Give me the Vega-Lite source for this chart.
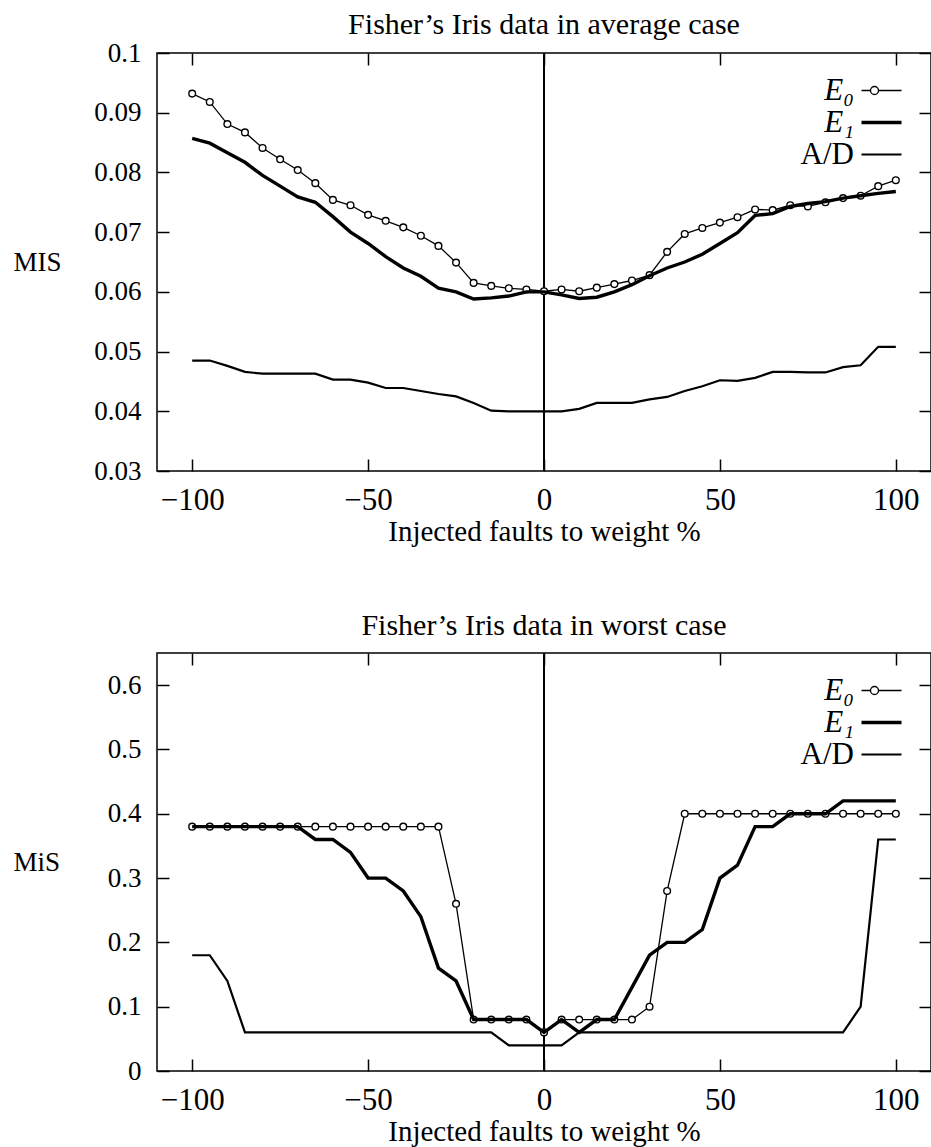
{
"$schema": "https://vega.github.io/schema/vega-lite/v6.json",
"padding": {"left": 12, "top": 9, "right": 0, "bottom": 0},
"background": "white",
"spacing": 63,
"resolve": {"scale": {"strokeWidth": "independent"}, "legend": {"strokeWidth": "independent"}},
"datasets": {
"avg": [
{"x":-100,"v":0.0932,"s":"E₀"},{"x":-95,"v":0.0918,"s":"E₀"},{"x":-90,"v":0.0881,"s":"E₀"},{"x":-85,"v":0.0867,"s":"E₀"},{"x":-80,"v":0.0841,"s":"E₀"},{"x":-75,"v":0.0822,"s":"E₀"},{"x":-70,"v":0.0804,"s":"E₀"},{"x":-65,"v":0.0782,"s":"E₀"},{"x":-60,"v":0.0754,"s":"E₀"},{"x":-55,"v":0.0745,"s":"E₀"},{"x":-50,"v":0.0729,"s":"E₀"},{"x":-45,"v":0.0719,"s":"E₀"},{"x":-40,"v":0.0708,"s":"E₀"},{"x":-35,"v":0.0694,"s":"E₀"},{"x":-30,"v":0.0677,"s":"E₀"},{"x":-25,"v":0.0649,"s":"E₀"},{"x":-20,"v":0.0615,"s":"E₀"},{"x":-15,"v":0.0610,"s":"E₀"},{"x":-10,"v":0.0606,"s":"E₀"},{"x":-5,"v":0.0604,"s":"E₀"},{"x":0,"v":0.0601,"s":"E₀"},{"x":5,"v":0.0604,"s":"E₀"},{"x":10,"v":0.0601,"s":"E₀"},{"x":15,"v":0.0607,"s":"E₀"},{"x":20,"v":0.0613,"s":"E₀"},{"x":25,"v":0.0619,"s":"E₀"},{"x":30,"v":0.0628,"s":"E₀"},{"x":35,"v":0.0667,"s":"E₀"},{"x":40,"v":0.0697,"s":"E₀"},{"x":45,"v":0.0707,"s":"E₀"},{"x":50,"v":0.0716,"s":"E₀"},{"x":55,"v":0.0725,"s":"E₀"},{"x":60,"v":0.0738,"s":"E₀"},{"x":65,"v":0.0737,"s":"E₀"},{"x":70,"v":0.0745,"s":"E₀"},{"x":75,"v":0.0743,"s":"E₀"},{"x":80,"v":0.0750,"s":"E₀"},{"x":85,"v":0.0757,"s":"E₀"},{"x":90,"v":0.0761,"s":"E₀"},{"x":95,"v":0.0777,"s":"E₀"},{"x":100,"v":0.0787,"s":"E₀"},
{"x":-100,"v":0.0857,"s":"E₁"},{"x":-95,"v":0.0849,"s":"E₁"},{"x":-90,"v":0.0833,"s":"E₁"},{"x":-85,"v":0.0817,"s":"E₁"},{"x":-80,"v":0.0795,"s":"E₁"},{"x":-75,"v":0.0777,"s":"E₁"},{"x":-70,"v":0.0759,"s":"E₁"},{"x":-65,"v":0.0750,"s":"E₁"},{"x":-60,"v":0.0726,"s":"E₁"},{"x":-55,"v":0.0700,"s":"E₁"},{"x":-50,"v":0.0681,"s":"E₁"},{"x":-45,"v":0.0659,"s":"E₁"},{"x":-40,"v":0.0640,"s":"E₁"},{"x":-35,"v":0.0626,"s":"E₁"},{"x":-30,"v":0.0606,"s":"E₁"},{"x":-25,"v":0.0600,"s":"E₁"},{"x":-20,"v":0.0588,"s":"E₁"},{"x":-15,"v":0.0590,"s":"E₁"},{"x":-10,"v":0.0593,"s":"E₁"},{"x":-5,"v":0.0600,"s":"E₁"},{"x":0,"v":0.0600,"s":"E₁"},{"x":5,"v":0.0595,"s":"E₁"},{"x":10,"v":0.0589,"s":"E₁"},{"x":15,"v":0.0591,"s":"E₁"},{"x":20,"v":0.0600,"s":"E₁"},{"x":25,"v":0.0612,"s":"E₁"},{"x":30,"v":0.0627,"s":"E₁"},{"x":35,"v":0.0640,"s":"E₁"},{"x":40,"v":0.0650,"s":"E₁"},{"x":45,"v":0.0663,"s":"E₁"},{"x":50,"v":0.0681,"s":"E₁"},{"x":55,"v":0.0699,"s":"E₁"},{"x":60,"v":0.0728,"s":"E₁"},{"x":65,"v":0.0731,"s":"E₁"},{"x":70,"v":0.0743,"s":"E₁"},{"x":75,"v":0.0748,"s":"E₁"},{"x":80,"v":0.0751,"s":"E₁"},{"x":85,"v":0.0757,"s":"E₁"},{"x":90,"v":0.0761,"s":"E₁"},{"x":95,"v":0.0765,"s":"E₁"},{"x":100,"v":0.0768,"s":"E₁"},
{"x":-100,"v":0.0485,"s":"A/D"},{"x":-95,"v":0.0485,"s":"A/D"},{"x":-90,"v":0.0476,"s":"A/D"},{"x":-85,"v":0.0466,"s":"A/D"},{"x":-80,"v":0.0463,"s":"A/D"},{"x":-75,"v":0.0463,"s":"A/D"},{"x":-70,"v":0.0463,"s":"A/D"},{"x":-65,"v":0.0463,"s":"A/D"},{"x":-60,"v":0.0453,"s":"A/D"},{"x":-55,"v":0.0453,"s":"A/D"},{"x":-50,"v":0.0448,"s":"A/D"},{"x":-45,"v":0.0439,"s":"A/D"},{"x":-40,"v":0.0439,"s":"A/D"},{"x":-35,"v":0.0434,"s":"A/D"},{"x":-30,"v":0.0429,"s":"A/D"},{"x":-25,"v":0.0425,"s":"A/D"},{"x":-20,"v":0.0414,"s":"A/D"},{"x":-15,"v":0.0401,"s":"A/D"},{"x":-10,"v":0.0400,"s":"A/D"},{"x":-5,"v":0.0400,"s":"A/D"},{"x":0,"v":0.0400,"s":"A/D"},{"x":5,"v":0.0400,"s":"A/D"},{"x":10,"v":0.0404,"s":"A/D"},{"x":15,"v":0.0414,"s":"A/D"},{"x":20,"v":0.0414,"s":"A/D"},{"x":25,"v":0.0414,"s":"A/D"},{"x":30,"v":0.0420,"s":"A/D"},{"x":35,"v":0.0424,"s":"A/D"},{"x":40,"v":0.0434,"s":"A/D"},{"x":45,"v":0.0442,"s":"A/D"},{"x":50,"v":0.0452,"s":"A/D"},{"x":55,"v":0.0451,"s":"A/D"},{"x":60,"v":0.0456,"s":"A/D"},{"x":65,"v":0.0466,"s":"A/D"},{"x":70,"v":0.0466,"s":"A/D"},{"x":75,"v":0.0465,"s":"A/D"},{"x":80,"v":0.0465,"s":"A/D"},{"x":85,"v":0.0474,"s":"A/D"},{"x":90,"v":0.0477,"s":"A/D"},{"x":95,"v":0.0508,"s":"A/D"},{"x":100,"v":0.0508,"s":"A/D"}
],
"worst": [
{"x":-100,"v":0.38,"s":"E₀"},{"x":-95,"v":0.38,"s":"E₀"},{"x":-90,"v":0.38,"s":"E₀"},{"x":-85,"v":0.38,"s":"E₀"},{"x":-80,"v":0.38,"s":"E₀"},{"x":-75,"v":0.38,"s":"E₀"},{"x":-70,"v":0.38,"s":"E₀"},{"x":-65,"v":0.38,"s":"E₀"},{"x":-60,"v":0.38,"s":"E₀"},{"x":-55,"v":0.38,"s":"E₀"},{"x":-50,"v":0.38,"s":"E₀"},{"x":-45,"v":0.38,"s":"E₀"},{"x":-40,"v":0.38,"s":"E₀"},{"x":-35,"v":0.38,"s":"E₀"},{"x":-30,"v":0.38,"s":"E₀"},{"x":-25,"v":0.26,"s":"E₀"},{"x":-20,"v":0.08,"s":"E₀"},{"x":-15,"v":0.08,"s":"E₀"},{"x":-10,"v":0.08,"s":"E₀"},{"x":-5,"v":0.08,"s":"E₀"},{"x":0,"v":0.06,"s":"E₀"},{"x":5,"v":0.08,"s":"E₀"},{"x":10,"v":0.08,"s":"E₀"},{"x":15,"v":0.08,"s":"E₀"},{"x":20,"v":0.08,"s":"E₀"},{"x":25,"v":0.08,"s":"E₀"},{"x":30,"v":0.10,"s":"E₀"},{"x":35,"v":0.28,"s":"E₀"},{"x":40,"v":0.40,"s":"E₀"},{"x":45,"v":0.40,"s":"E₀"},{"x":50,"v":0.40,"s":"E₀"},{"x":55,"v":0.40,"s":"E₀"},{"x":60,"v":0.40,"s":"E₀"},{"x":65,"v":0.40,"s":"E₀"},{"x":70,"v":0.40,"s":"E₀"},{"x":75,"v":0.40,"s":"E₀"},{"x":80,"v":0.40,"s":"E₀"},{"x":85,"v":0.40,"s":"E₀"},{"x":90,"v":0.40,"s":"E₀"},{"x":95,"v":0.40,"s":"E₀"},{"x":100,"v":0.40,"s":"E₀"},
{"x":-100,"v":0.38,"s":"E₁"},{"x":-95,"v":0.38,"s":"E₁"},{"x":-90,"v":0.38,"s":"E₁"},{"x":-85,"v":0.38,"s":"E₁"},{"x":-80,"v":0.38,"s":"E₁"},{"x":-75,"v":0.38,"s":"E₁"},{"x":-70,"v":0.38,"s":"E₁"},{"x":-65,"v":0.36,"s":"E₁"},{"x":-60,"v":0.36,"s":"E₁"},{"x":-55,"v":0.34,"s":"E₁"},{"x":-50,"v":0.30,"s":"E₁"},{"x":-45,"v":0.30,"s":"E₁"},{"x":-40,"v":0.28,"s":"E₁"},{"x":-35,"v":0.24,"s":"E₁"},{"x":-30,"v":0.16,"s":"E₁"},{"x":-25,"v":0.14,"s":"E₁"},{"x":-20,"v":0.08,"s":"E₁"},{"x":-15,"v":0.08,"s":"E₁"},{"x":-10,"v":0.08,"s":"E₁"},{"x":-5,"v":0.08,"s":"E₁"},{"x":0,"v":0.06,"s":"E₁"},{"x":5,"v":0.08,"s":"E₁"},{"x":10,"v":0.06,"s":"E₁"},{"x":15,"v":0.08,"s":"E₁"},{"x":20,"v":0.08,"s":"E₁"},{"x":25,"v":0.13,"s":"E₁"},{"x":30,"v":0.18,"s":"E₁"},{"x":35,"v":0.20,"s":"E₁"},{"x":40,"v":0.20,"s":"E₁"},{"x":45,"v":0.22,"s":"E₁"},{"x":50,"v":0.30,"s":"E₁"},{"x":55,"v":0.32,"s":"E₁"},{"x":60,"v":0.38,"s":"E₁"},{"x":65,"v":0.38,"s":"E₁"},{"x":70,"v":0.40,"s":"E₁"},{"x":75,"v":0.40,"s":"E₁"},{"x":80,"v":0.40,"s":"E₁"},{"x":85,"v":0.42,"s":"E₁"},{"x":90,"v":0.42,"s":"E₁"},{"x":95,"v":0.42,"s":"E₁"},{"x":100,"v":0.42,"s":"E₁"},
{"x":-100,"v":0.18,"s":"A/D"},{"x":-95,"v":0.18,"s":"A/D"},{"x":-90,"v":0.14,"s":"A/D"},{"x":-85,"v":0.06,"s":"A/D"},{"x":-80,"v":0.06,"s":"A/D"},{"x":-75,"v":0.06,"s":"A/D"},{"x":-70,"v":0.06,"s":"A/D"},{"x":-65,"v":0.06,"s":"A/D"},{"x":-60,"v":0.06,"s":"A/D"},{"x":-55,"v":0.06,"s":"A/D"},{"x":-50,"v":0.06,"s":"A/D"},{"x":-45,"v":0.06,"s":"A/D"},{"x":-40,"v":0.06,"s":"A/D"},{"x":-35,"v":0.06,"s":"A/D"},{"x":-30,"v":0.06,"s":"A/D"},{"x":-25,"v":0.06,"s":"A/D"},{"x":-20,"v":0.06,"s":"A/D"},{"x":-15,"v":0.06,"s":"A/D"},{"x":-10,"v":0.04,"s":"A/D"},{"x":-5,"v":0.04,"s":"A/D"},{"x":0,"v":0.04,"s":"A/D"},{"x":5,"v":0.04,"s":"A/D"},{"x":10,"v":0.06,"s":"A/D"},{"x":15,"v":0.06,"s":"A/D"},{"x":20,"v":0.06,"s":"A/D"},{"x":25,"v":0.06,"s":"A/D"},{"x":30,"v":0.06,"s":"A/D"},{"x":35,"v":0.06,"s":"A/D"},{"x":40,"v":0.06,"s":"A/D"},{"x":45,"v":0.06,"s":"A/D"},{"x":50,"v":0.06,"s":"A/D"},{"x":55,"v":0.06,"s":"A/D"},{"x":60,"v":0.06,"s":"A/D"},{"x":65,"v":0.06,"s":"A/D"},{"x":70,"v":0.06,"s":"A/D"},{"x":75,"v":0.06,"s":"A/D"},{"x":80,"v":0.06,"s":"A/D"},{"x":85,"v":0.06,"s":"A/D"},{"x":90,"v":0.10,"s":"A/D"},{"x":95,"v":0.36,"s":"A/D"},{"x":100,"v":0.36,"s":"A/D"}
]
},
"vconcat": [
{
"title": {"text": "Fisher’s Iris data in average case", "offset": -1},
"width": 774, "height": 418,
"data": {"name": "avg"},
"layer": [
{"mark": {"type": "rule", "color": "black", "strokeWidth": 1.5},
 "encoding": {"x": {"datum": 0, "type": "quantitative", "scale": {"domain": [-110, 110], "nice": false}, "axis": null}}},
{"transform": [{"filter": "datum.s === 'E₀'"}],
 "mark": {"type": "line", "color": "black"},
 "encoding": {
  "x": {"field": "x", "type": "quantitative", "scale": {"domain": [-110, 110], "nice": false},
        "axis": {"orient": "bottom", "values": [-100, -50, 0, 50, 100], "title": "Injected faults to weight %", "tickSize": -12, "labelFontSize": 31, "labelPadding": 50, "labelBaseline": "alphabetic", "titleFontSize": 29, "titleY": 69, "titleBaseline": "alphabetic"}},
  "y": {"field": "v", "type": "quantitative", "scale": {"domain": [0.03, 0.1], "nice": false, "zero": false},
        "axis": {"orient": "left", "values": [0.03, 0.04, 0.05, 0.06, 0.07, 0.08, 0.09, 0.1], "format": "~g", "title": "MIS", "tickSize": -12, "labelFontSize": 27, "labelPadding": 28, "titleAngle": 0, "titleX": -144, "titleY": 209, "titleAlign": "left", "titleBaseline": "middle", "titleFontSize": 27}},
  "strokeWidth": {"field": "s", "type": "nominal", "scale": {"type": "ordinal", "domain": ["E₀", "E₁", "A/D"], "range": [1.3, 3.4, 2.2]},
        "legend": {"title": null, "orient": "top-right", "offset": 22, "symbolType": "M-4,0L4,0", "symbolSize": 100, "symbolStrokeColor": "black", "symbolFillColor": "white", "labelFontSize": 31, "labelColor": "black", "labelFont": "Liberation Serif", "labelAlign": "right", "labelOffset": -43, "rowPadding": 0,
          "encode": {"symbols": {"update": {"shape": {"signal": "datum.value === 'E₀' ? 'M-4,0L-2.2,0M-0.6,0L4,0M-2.2,0A0.8,0.8,0,1,1,-0.6,0A0.8,0.8,0,1,1,-2.2,0' : 'M-4,0L4,0'"}}},
                     "labels": {"update": {"fontStyle": {"signal": "datum.value === 'A/D' ? 'normal' : 'italic'"}}}}}}
 }},
{"transform": [{"filter": "datum.s === 'E₀'"}],
 "mark": {"type": "point", "filled": true, "fill": "white", "stroke": "black", "strokeWidth": 1.4, "size": 45, "opacity": 1},
 "encoding": {
  "x": {"field": "x", "type": "quantitative", "axis": {"orient": "top", "values": [-100, -50, 0, 50, 100], "labels": false, "title": null, "tickSize": -12}},
  "y": {"field": "v", "type": "quantitative", "axis": {"orient": "right", "values": [0.03, 0.04, 0.05, 0.06, 0.07, 0.08, 0.09, 0.1], "labels": false, "title": null, "tickSize": -12}}
 }},
{"transform": [{"filter": "datum.s !== 'E₀'"}],
 "mark": {"type": "line", "color": "black"},
 "encoding": {
  "x": {"field": "x", "type": "quantitative", "axis": null},
  "y": {"field": "v", "type": "quantitative", "axis": null},
  "strokeWidth": {"field": "s", "type": "nominal", "scale": {"type": "ordinal", "domain": ["E₀", "E₁", "A/D"], "range": [1.3, 3.4, 2.2]}, "legend": null}
 }}
],
"resolve": {"axis": {"x": "independent", "y": "independent"}}
},
{
"title": {"text": "Fisher’s Iris data in worst case", "offset": 11},
"width": 774, "height": 418,
"data": {"name": "worst"},
"layer": [
{"mark": {"type": "rule", "color": "black", "strokeWidth": 1.5},
 "encoding": {"x": {"datum": 0, "type": "quantitative", "scale": {"domain": [-110, 110], "nice": false}, "axis": null}}},
{"transform": [{"filter": "datum.s === 'E₀'"}],
 "mark": {"type": "line", "color": "black"},
 "encoding": {
  "x": {"field": "x", "type": "quantitative", "scale": {"domain": [-110, 110], "nice": false},
        "axis": {"orient": "bottom", "values": [-100, -50, 0, 50, 100], "title": "Injected faults to weight %", "tickSize": -12, "labelFontSize": 31, "labelPadding": 50, "labelBaseline": "alphabetic", "titleFontSize": 29, "titleY": 69, "titleBaseline": "alphabetic"}},
  "y": {"field": "v", "type": "quantitative", "scale": {"domain": [0, 0.65], "nice": false, "zero": false},
        "axis": {"orient": "left", "values": [0, 0.1, 0.2, 0.3, 0.4, 0.5, 0.6], "format": "~g", "title": "MiS", "tickSize": -12, "labelFontSize": 27, "labelPadding": 28, "titleAngle": 0, "titleX": -144, "titleY": 209, "titleAlign": "left", "titleBaseline": "middle", "titleFontSize": 27}},
  "strokeWidth": {"field": "s", "type": "nominal", "scale": {"type": "ordinal", "domain": ["E₀", "E₁", "A/D"], "range": [1.3, 3.4, 2.2]},
        "legend": {"title": null, "orient": "top-right", "offset": 22, "symbolType": "M-4,0L4,0", "symbolSize": 100, "symbolStrokeColor": "black", "symbolFillColor": "white", "labelFontSize": 31, "labelColor": "black", "labelFont": "Liberation Serif", "labelAlign": "right", "labelOffset": -43, "rowPadding": 0,
          "encode": {"symbols": {"update": {"shape": {"signal": "datum.value === 'E₀' ? 'M-4,0L-2.2,0M-0.6,0L4,0M-2.2,0A0.8,0.8,0,1,1,-0.6,0A0.8,0.8,0,1,1,-2.2,0' : 'M-4,0L4,0'"}}},
                     "labels": {"update": {"fontStyle": {"signal": "datum.value === 'A/D' ? 'normal' : 'italic'"}}}}}}
 }},
{"transform": [{"filter": "datum.s === 'E₀'"}],
 "mark": {"type": "point", "filled": true, "fill": "white", "stroke": "black", "strokeWidth": 1.4, "size": 45, "opacity": 1},
 "encoding": {
  "x": {"field": "x", "type": "quantitative", "axis": {"orient": "top", "values": [-100, -50, 0, 50, 100], "labels": false, "title": null, "tickSize": -12}},
  "y": {"field": "v", "type": "quantitative", "axis": {"orient": "right", "values": [0, 0.1, 0.2, 0.3, 0.4, 0.5, 0.6], "labels": false, "title": null, "tickSize": -12}}
 }},
{"transform": [{"filter": "datum.s !== 'E₀'"}],
 "mark": {"type": "line", "color": "black"},
 "encoding": {
  "x": {"field": "x", "type": "quantitative", "axis": null},
  "y": {"field": "v", "type": "quantitative", "axis": null},
  "strokeWidth": {"field": "s", "type": "nominal", "scale": {"type": "ordinal", "domain": ["E₀", "E₁", "A/D"], "range": [1.3, 3.4, 2.2]}, "legend": null}
 }}
],
"resolve": {"axis": {"x": "independent", "y": "independent"}}
}
],
"config": {
 "font": "Liberation Serif",
 "view": {"stroke": "black", "strokeWidth": 1.5},
 "axis": {"domain": false, "grid": false, "ticks": true, "tickColor": "black", "tickWidth": 1.5, "labelColor": "black", "titleColor": "black", "labelFont": "Liberation Serif", "titleFont": "Liberation Serif", "titleFontWeight": "normal", "labelFlush": false, "labelOverlap": false},
 "title": {"font": "Liberation Serif", "fontSize": 30, "fontWeight": "normal", "color": "black", "baseline": "alphabetic"}
}
}
